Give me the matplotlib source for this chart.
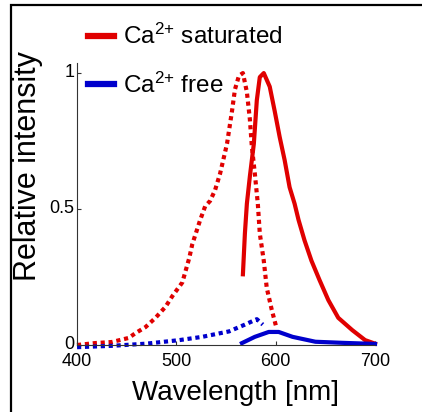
import matplotlib
matplotlib.use("Agg")
import matplotlib.pyplot as plt
from matplotlib.lines import Line2D
from matplotlib.patches import Rectangle
from matplotlib.transforms import ScaledTranslation

plt.rcParams["font.family"] = ["Liberation Sans", "DejaVu Sans"]
plt.rcParams["mathtext.fontset"] = "custom"
plt.rcParams["mathtext.rm"] = "Liberation Sans"

# Ca2+ saturated, excitation (dotted)
sat_ex_wl = [400, 418, 435, 452, 459, 469, 479, 489, 496, 506, 513, 516, 524,
             529, 534, 539, 544, 551, 556, 559, 563, 567, 571, 574, 576, 579,
             582, 584, 588, 591, 596, 601]
sat_ex = [0.0, 0.007, 0.011, 0.026, 0.044, 0.066, 0.10, 0.14, 0.18, 0.23, 0.32,
          0.37, 0.46, 0.51, 0.53, 0.57, 0.63, 0.74, 0.86, 0.94, 0.99, 1.0, 0.93,
          0.83, 0.73, 0.63, 0.52, 0.41, 0.31, 0.21, 0.13, 0.06]

# Ca2+ saturated, emission (solid)
sat_em_wl = [567, 569, 571, 574, 578, 581, 584, 588, 594, 599, 604, 609, 614,
             619, 623, 629, 636, 644, 653, 663, 677, 690, 700]
sat_em = [0.26, 0.41, 0.52, 0.62, 0.74, 0.90, 0.985, 1.0, 0.95, 0.86, 0.765,
          0.68, 0.58, 0.52, 0.46, 0.385, 0.31, 0.24, 0.165, 0.10, 0.055, 0.018,
          0.005]

# Ca2+ free, excitation (dotted)
free_ex_wl = [400, 435, 470, 503, 526, 553, 569, 581, 587]
free_ex = [-0.008, -0.003, 0.005, 0.018, 0.03, 0.05, 0.075, 0.095, 0.075]

# Ca2+ free, emission (solid)
free_em_wl = [566, 579, 593, 603, 617, 640, 667, 700]
free_em = [0.007, 0.03, 0.048, 0.048, 0.03, 0.012, 0.008, 0.004]

x_ticks = [400, 500, 600, 700]
y_ticks = [0, 0.5, 1]
y_tick_labels = ["0", "0.5", "1"]

red = "#e00000"
blue = "#0000cc"

fig = plt.figure(figsize=(4.22, 4.12), dpi=100)
ax = fig.add_axes([0.1825, 0.1626, 0.7062, 0.6845])

dot = (0, (1, 0.9))
ax.plot(sat_ex_wl, sat_ex, color=red, lw=3, ls=dot, dash_capstyle="butt", clip_on=False)
ax.plot(free_ex_wl, free_ex, color=blue, lw=3, ls=dot, dash_capstyle="butt", clip_on=False)
ax.plot(sat_em_wl, sat_em, color=red, lw=3, clip_on=False)
ax.plot(free_em_wl, free_em, color=blue, lw=3, clip_on=False)

ax.set_xlim(400, 700)
ax.set_ylim(0, 1.037)
ax.set_xticks(x_ticks)
ax.set_yticks(y_ticks)
ax.set_yticklabels(y_tick_labels)
for s in ["top", "right"]:
    ax.spines[s].set_visible(False)
for s in ["left", "bottom"]:
    ax.spines[s].set_linewidth(0.8)
    ax.spines[s].set_color("#333333")
ax.tick_params(direction="in", length=3, width=0.8, labelsize=13, colors="#333333",
               labelcolor="black")
ax.tick_params(axis="x", pad=6)
ax.tick_params(axis="y", pad=2)
# y labels sit a little above their ticks in the original
shift = ScaledTranslation(0, 3 / 100, fig.dpi_scale_trans)
for lab in ax.get_yticklabels():
    lab.set_transform(lab.get_transform() + shift)

fig.text(0.559, 0.046, "Wavelength [nm]", fontsize=20, ha="center", va="center")
fig.text(0.066, 0.597, "Relative intensity", fontsize=22, rotation=90,
         ha="center", va="center")

handles = [Line2D([], [], color=red, lw=4.5), Line2D([], [], color=blue, lw=4.5)]
labels = [r"$\mathregular{Ca^{2{+}}}$ saturated", r"$\mathregular{Ca^{2{+}}}$ free"]
fig.legend(handles, labels, loc="upper left", bbox_to_anchor=(88 / 422, 1 - 24 / 412),
           frameon=False, fontsize=17.5, handlelength=1.05, handletextpad=0.4,
           labelspacing=0.95, borderpad=0, borderaxespad=0)

fig.patches.append(Rectangle((11 / 422, -0.1), 1.2, 1.0 - 5 / 412 + 0.1,
                             transform=fig.transFigure, fill=False,
                             edgecolor="black", lw=1.6))

fig.savefig("out.png", dpi=100)
